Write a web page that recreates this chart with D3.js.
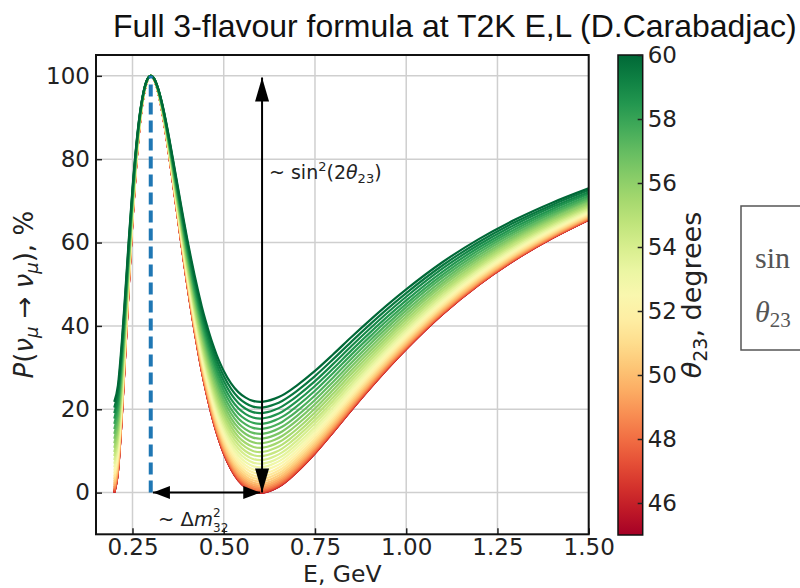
<!DOCTYPE html>
<html><head><meta charset="utf-8">
<script src="https://cdn.jsdelivr.net/npm/d3@7"></script>
<style>body{margin:0;background:#fff;overflow:hidden} svg{display:block}</style>
</head><body><svg id="c" width="800" height="588"></svg>
<script>
// ---------- data ----------
const energyGeV = [0.20,0.21,0.22,0.23,0.24,0.25,0.26,0.27,0.28,0.29,0.30,0.31,0.32,0.33,0.34,0.35,0.36,0.37,0.38,0.39,0.40,0.41,0.42,0.43,0.44,0.45,0.46,0.47,0.48,0.49,0.50,0.52,0.54,0.56,0.58,0.60,0.62,0.64,0.66,0.68,0.70,0.75,0.80,0.85,0.90,0.95,1.00,1.10,1.20,1.30,1.40,1.50];
// survival probability (%) of the reddest curve, theta23 = 45 deg
const survival45 = [0.0,5.0,17.3,33.2,50.0,65.5,78.4,88.3,95.0,98.8,100.0,99.0,96.2,92.1,87.0,81.2,75.0,68.7,62.3,56.0,50.0,44.3,38.9,33.9,29.2,25.0,21.2,17.7,14.6,11.9,9.5,5.7,3.0,1.3,0.3,0.0,0.3,1.0,2.0,3.4,5.0,9.5,14.6,19.9,25.0,29.9,34.5,42.9,50.0,56.0,61.1,65.5];
// family of curves: theta23 (deg) and the dip value (%) of each curve at 0.6 GeV
const thetaDeg = [45,45.5,46,46.5,47,47.5,48,48.5,49,49.5,50,50.5,51,51.5,52,52.5,53,53.5,54,54.5,55,55.5,56,56.5,57,57.5,58,58.5,59,59.5,60];
const dipAt600MeV = [0.05,0.0,0.01,0.09,0.21,0.40,0.64,0.94,1.30,1.72,2.19,2.71,3.29,3.92,4.61,5.34,6.13,6.97,7.85,8.79,9.77,10.79,11.86,12.97,14.12,15.31,16.54,17.81,19.11,20.44,21.81];
const xTicks = [0.25,0.50,0.75,1.00,1.25,1.50];
const yTicks = [0,20,40,60,80,100];
const cbarTicks = [46,48,50,52,54,56,58,60];
const peakE = 0.30, dipE = 0.60, arrowE = 0.605;
const titleText = "Full 3-flavour formula at T2K E,L (D.Carabadjac)";

// ---------- drawing ----------
const svg = d3.select("#c");
const FONT = "DejaVu Sans, sans-serif";
const x = d3.scaleLinear().domain([0.15, 1.5]).range([96, 588.7]);
const y = d3.scaleLinear().domain([-10, 105]).range([534.3, 55]);
const cb = d3.scaleLinear().domain([45, 60]).range([535, 55]);
const color = t => d3.interpolateRdYlGn((t - 45) / 15);

// title
const title = svg.append("text").attr("x", 113).attr("y", 37)
  .attr("font-family", "Liberation Sans, Arial, sans-serif").attr("font-size", 31)
  .attr("fill", "#111").text(titleText);
const tl = title.node().getComputedTextLength();
title.attr("font-size", 31 * 684 / tl);

// grid
const g = svg.append("g");
g.selectAll(".gx").data(xTicks).join("line")
  .attr("x1", d => x(d)).attr("x2", d => x(d)).attr("y1", y(-10)).attr("y2", y(105))
  .attr("stroke", "#cfcfcf").attr("stroke-width", 1.5);
g.selectAll(".gy").data(yTicks).join("line")
  .attr("y1", d => y(d)).attr("y2", d => y(d)).attr("x1", x(0.15)).attr("x2", x(1.5))
  .attr("stroke", "#cfcfcf").attr("stroke-width", 1.5);

// curves
const line = d3.line().x(d => x(d[0])).y(d => y(d[1])).curve(d3.curveMonotoneX);
const curves = thetaDeg.map((t, j) => ({
  t, pts: energyGeV.map((e, i) => [e, 100 - (100 - survival45[i]) * (100 - dipAt600MeV[j]) / (100 - dipAt600MeV[0])])
}));
svg.append("g").selectAll("path").data(curves).join("path")
  .attr("d", d => line(d.pts)).attr("fill", "none")
  .attr("stroke", d => color(d.t)).attr("stroke-width", 2.2);

// blue dashed line
svg.append("line").attr("x1", x(peakE)).attr("x2", x(peakE)).attr("y1", y(0)).attr("y2", y(100))
  .attr("stroke", "#1f77b4").attr("stroke-width", 4).attr("stroke-dasharray", "12,6");

// arrows
function arrow(x1, y1, x2, y2, hl, hw) {
  svg.append("line").attr("x1", x1).attr("y1", y1).attr("x2", x2).attr("y2", y2)
    .attr("stroke", "#000").attr("stroke-width", 2);
  const head = (tx, ty, fx, fy) => {
    const dx = tx - fx, dy = ty - fy, L = Math.hypot(dx, dy), ux = dx / L, uy = dy / L;
    const bx = tx - ux * hl, by = ty - uy * hl;
    svg.append("polygon").attr("points",
      [[tx, ty], [bx - uy * hw / 2, by + ux * hw / 2], [bx + uy * hw / 2, by - ux * hw / 2]].map(p => p.join(",")).join(" "))
      .attr("fill", "#000");
  };
  head(x2, y2, x1, y1); head(x1, y1, x2, y2);
}
arrow(x(arrowE), y(99.6), x(arrowE), y(0), 24, 14);
arrow(x(0.306), y(0), x(dipE), y(0), 17, 13);

// annotations
const a1 = svg.append("text").attr("x", 269).attr("y", 179).attr("font-family", FONT).attr("font-size", 19).attr("fill", "#222");
a1.append("tspan").text("~ sin");
a1.append("tspan").attr("dy", -8).attr("font-size", 13).text("2");
a1.append("tspan").attr("dy", 8).text("(2");
a1.append("tspan").attr("font-style", "italic").text("θ");
a1.append("tspan").attr("dy", 4).attr("font-size", 13).text("23");
a1.append("tspan").attr("dy", -4).text(")");

const a2 = svg.append("text").attr("x", 158).attr("y", 526).attr("font-family", FONT).attr("font-size", 19.5).attr("fill", "#222");
a2.append("tspan").text("~ Δ");
a2.append("tspan").attr("font-style", "italic").text("m");
a2.append("tspan").attr("dy", -9).attr("font-size", 12).text("2");
a2.append("tspan").attr("dx", -7.5).attr("dy", 15).attr("font-size", 12).text("32");

// axes (inward ticks)
const xAxis = svg.append("g").attr("transform", `translate(0,${y(-10)})`)
  .call(d3.axisBottom(x).tickValues(xTicks).tickFormat(d3.format(".2f")).tickSizeInner(-6).tickSizeOuter(0).tickPadding(4));
const yAxis = svg.append("g").attr("transform", `translate(${x(0.15)},0)`)
  .call(d3.axisLeft(y).tickValues(yTicks).tickFormat(d3.format("d")).tickSizeInner(-6).tickSizeOuter(0).tickPadding(6));
[xAxis, yAxis].forEach(a => {
  a.select(".domain").remove();
  a.selectAll("text").attr("font-family", FONT).attr("font-size", 23).attr("fill", "#222");
  a.selectAll("line").attr("stroke", "#222").attr("stroke-width", 1.5);
});

// frame
svg.append("rect").attr("x", x(0.15)).attr("y", y(105)).attr("width", x(1.5) - x(0.15)).attr("height", y(-10) - y(105))
  .attr("fill", "none").attr("stroke", "#111").attr("stroke-width", 2);

// axis labels
svg.append("text").attr("x", (x(0.15) + x(1.5)) / 2).attr("y", 582).attr("text-anchor", "middle")
  .attr("font-family", FONT).attr("font-size", 23.5).attr("fill", "#222").text("E, GeV");
const yl = svg.append("text").attr("transform", `translate(33,${(y(-10) + y(105)) / 2}) rotate(-90)`)
  .attr("text-anchor", "middle").attr("font-family", FONT).attr("font-size", 26).attr("fill", "#222");
yl.append("tspan").attr("font-style", "italic").text("P");
yl.append("tspan").text("(");
yl.append("tspan").attr("font-style", "italic").text("ν");
yl.append("tspan").attr("font-style", "italic").attr("font-size", 18).attr("dy", 5).text("μ");
yl.append("tspan").attr("dy", -5).text(" → ");
yl.append("tspan").attr("font-style", "italic").text("ν");
yl.append("tspan").attr("font-style", "italic").attr("font-size", 18).attr("dy", 5).text("μ");
yl.append("tspan").attr("dy", -5).text("), %");

// colorbar
const defs = svg.append("defs");
const grad = defs.append("linearGradient").attr("id", "cbg").attr("x1", 0).attr("y1", 1).attr("x2", 0).attr("y2", 0);
d3.range(0, 1.0001, 0.05).forEach(o => grad.append("stop").attr("offset", o).attr("stop-color", d3.interpolateRdYlGn(o)));
svg.append("rect").attr("x", 618).attr("y", cb(60)).attr("width", 24.7).attr("height", cb(45) - cb(60))
  .attr("fill", "url(#cbg)").attr("stroke", "#111").attr("stroke-width", 1.5);
const cAxis = svg.append("g").attr("transform", "translate(642.7,0)")
  .call(d3.axisRight(cb).tickValues(cbarTicks).tickSizeInner(-5).tickSizeOuter(0).tickPadding(5));
cAxis.select(".domain").remove();
cAxis.selectAll("text").attr("font-family", FONT).attr("font-size", 23).attr("fill", "#222");
cAxis.selectAll("line").attr("stroke", "#222").attr("stroke-width", 1.5);
const cl = svg.append("text").attr("transform", `translate(701,${(cb(45) + cb(60)) / 2}) rotate(-90)`)
  .attr("text-anchor", "middle").attr("font-family", FONT).attr("font-size", 27).attr("fill", "#222");
cl.append("tspan").attr("font-style", "italic").text("θ");
cl.append("tspan").attr("font-size", 19).attr("dy", 6).text("23");
cl.append("tspan").attr("dy", -6).text(", degrees");

// partially visible box on the right
svg.append("rect").attr("x", 741).attr("y", 206).attr("width", 90).attr("height", 144)
  .attr("fill", "#fff").attr("stroke", "#555").attr("stroke-width", 1.5);
svg.append("text").attr("x", 755).attr("y", 268).attr("font-family", "Liberation Serif, serif").attr("font-size", 30).attr("fill", "#555").text("sin");
const th = svg.append("text").attr("x", 755).attr("y", 322).attr("font-family", "Liberation Serif, serif").attr("font-size", 30).attr("fill", "#555");
th.append("tspan").attr("font-style", "italic").text("θ");
th.append("tspan").attr("font-size", 21).attr("dy", 5).text("23");
</script></body></html>
